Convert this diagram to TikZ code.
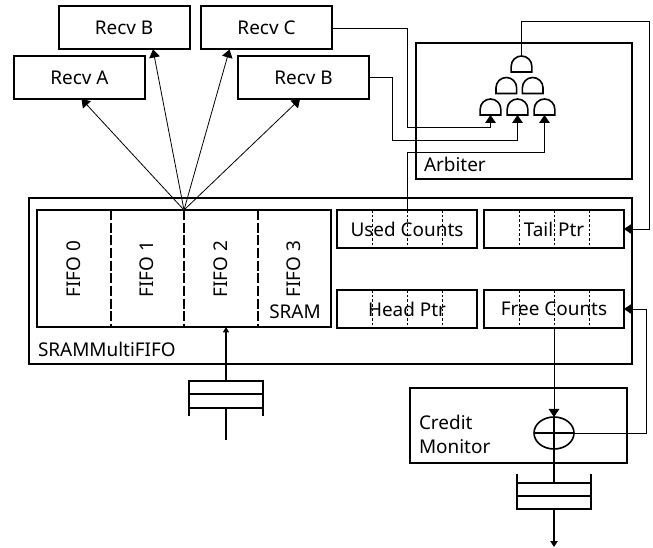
\documentclass[tikz,border=0pt]{standalone}
\usepackage{xcolor}
\usepackage{fontspec}
\setmainfont{Noto Sans}
\usetikzlibrary{arrows.meta,positioning,calc,shapes.geometric}
\begin{document}
\begin{tikzpicture}[x=0.75pt,y=-0.75pt,
    box/.style={draw,line width=1.5pt,outer sep=0pt,inner sep=0pt,font=\fontsize{14.2}{18}\selectfont},
    recv/.style={box,minimum width=98.25pt,minimum height=32.25pt},
    reg/.style={box,minimum width=105pt,minimum height=28.5pt},
    gate/.style={outer sep=0pt,inner sep=0pt,minimum width=15.5pt,minimum height=12pt},
    queue/.style={draw,line width=1.5pt,outer sep=0pt,inner sep=0pt,minimum width=55.5pt,minimum height=20pt},
    lab/.style={inner sep=0pt,outer sep=0pt,font=\fontsize{14.2}{18}\selectfont},
    a/.style={-{Triangle[length=6pt,width=8pt]},line width=0.6pt},
    w/.style={line width=1.5pt},
    div/.style={line width=1.5pt,dash pattern=on 7.5pt off 2pt},
    tick/.style={line width=0.4pt,dash pattern=on 2pt off 1.5pt}]
    \useasboundingbox (0,0) rectangle (653,548);
    % receivers
    \node[recv] (ra) at (79.5,77.5) {Recv A};
    \node[recv] (rb) at (124,28) {Recv B};
    \node[recv] (rc) at (266.5,28) {Recv C};
    \node[recv] (rd) at (303.5,77.5) {Recv B};
    % arbiter
    \node[box,minimum width=162pt,minimum height=102pt] (arb) at (524,111) {};
    \node[lab,anchor=west] (arblab) at (424,164) {Arbiter};
    \node[gate] (gt) at (521.5,64) {};
    \node[gate] (gl) at (506.3,85.5) {};
    \node[gate] (gr) at (532.7,85.5) {};
    \node[gate] (ga) at (490.5,107) {};
    \node[gate] (gb) at (517.5,107) {};
    \node[gate] (gc) at (544.5,107) {};
    \foreach \g in {gt,gl,gr,ga,gb,gc}
      \draw[line width=1.2pt] (\g.south west) -- ++(0,-5.67) arc[start angle=180,end angle=0,radius=7.75pt] -- (\g.south east) -- cycle;
    % multififo
    \node[box,minimum width=452.25pt,minimum height=124.5pt] (mf) at (330.5,281) {};
    \node[lab,anchor=west] (mflab) at (38,349) {SRAMMultiFIFO};
    \node[box,minimum width=220.5pt,minimum height=87.75pt] (sram) at (184,268.5) {};
    \foreach \k/\x in {0/74,1/147,2/221,3/294}
      \node[lab,rotate=90] (f\k) at (\x,269) {FIFO \k};
    \node[lab] (sramlab) at (295,312) {SRAM};
    \foreach \f in {.25,.5,.75}
      \draw[div] ($(sram.north west)!\f!(sram.north east)$) -- ($(sram.south west)!\f!(sram.south east)$);
    \node[reg] (used) at (407,229) {Used Counts};
    \node[reg,right=5.25pt of used] (tail) {Tail Ptr};
    \node[reg,below=31.5pt of used] (head) {Head Ptr};
    \node[reg,right=5.25pt of head] (free) {Free Counts};
    \foreach \r in {used,tail,head,free}
      \foreach \f in {.25,.5,.75}
        \draw[tick] ($(\r.north west)!\f!(\r.north east)$) -- ($(\r.south west)!\f!(\r.south east)$);
    % credit monitor
    \node[box,minimum width=162.75pt,minimum height=56.25pt] (cm) at (518.5,425.5) {};
    \node[lab,anchor=west,align=left] (cmlab) at (419,434) {Credit\\Monitor};
    \node[draw,line width=1.2pt,ellipse,outer sep=0pt,inner sep=0pt,minimum width=30pt,minimum height=24pt] (xor) at (554,433) {};
    \draw[line width=1.2pt] (xor.west)--(xor.east) (xor.north)--(xor.south);
    % queues
    \node[queue] (inq) at (226,394.5) {};
    \draw[w] (inq.west)--(inq.east);
    \draw[w] (inq.north west)-- ++(0,35) (inq.north east)-- ++(0,35);
    \node[queue] (outq) at (554,496) {};
    \draw[w] (outq.west)--(outq.east);
    \draw[w] (outq.south west)-- ++(0,-35) (outq.south east)-- ++(0,-35);
    \coordinate (inend) at (226,440);
    \coordinate (outend) at (554,547);
    % fan out
    \coordinate (fan) at ($(sram.north west)!.5!(sram.north east)$);
    \draw[a] (fan)--($(ra.south)+(2,0)$);
    \draw[a] (fan)--($(rb.south)+(29,0)$);
    \draw[a] (fan)--($(rc.south)+(-37,0)$);
    \draw[a] (fan)--($(rd.south)+(-3.5,0)$);
    % request wires
    \draw[a] (rc.east) -| ++(75,99) -| (ga.south);
    \draw[a] (rd.east) -| ++(23,62.5) -| (gb.south);
    \draw[a] (used.north) -- ++(0,-58) -| (gc.south);
    \draw[a] (gt.north) |- ++(127.5,-35) |- (tail.east);
    \draw[a] (xor.east) -- ++(72,0) |- (free.east);
    \draw[a] (free.south) -- (xor.north);
    % data path
    \draw[w,-{Triangle[length=4pt,width=4.5pt]}] (inq.north) -- (inq.north |- sram.south);
    \draw[w] (inq.south) -- (inend);
    \draw[w] (xor.south) -- (outq.north);
    \draw[w,-{Triangle[length=4.5pt,width=5.5pt]}] (outq.south) -- (outend);
\end{tikzpicture}
\end{document}
